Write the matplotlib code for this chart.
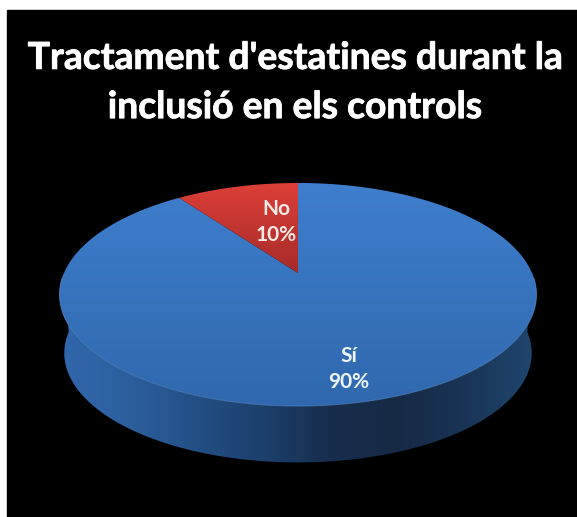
import numpy as np
import matplotlib
matplotlib.use('Agg')
import matplotlib.pyplot as plt
import matplotlib.patheffects as pe
from matplotlib.colors import LinearSegmentedColormap
from matplotlib.patches import Polygon

title = "Tractament d'estatines durant la\ninclusió en els controls"
categories = ['Sí', 'No']
shares = [90, 10]

# pie geometry in pixels
cx, cy = 298, 273
rx, ry = 234, 107.4
tilt = 0.193
depth = 59
shrink = 0.98


def disc(theta, scale=1.0, dy=0.0):
    # theta is clockwise from 12 o'clock, far side of the disc is squeezed by the tilt
    w = 1 + tilt * np.cos(theta)
    x = cx + scale * rx * np.sin(theta) / w
    y = cy + dy - scale * ry * np.cos(theta) / w
    return np.column_stack([x, y])


def gradient(ax, patch, colors, vertical=True, extent=(0, 577, 517, 0)):
    cmap = LinearSegmentedColormap.from_list('g', colors)
    g = np.linspace(0, 1, 256)
    g = g.reshape(-1, 1) if vertical else g.reshape(1, -1)
    ax.add_patch(patch)
    im = ax.imshow(g, cmap=cmap, extent=extent, aspect='auto', zorder=patch.get_zorder(), interpolation='bilinear')
    im.set_clip_path(patch)


fig = plt.figure(figsize=(5.77, 5.17), dpi=100, facecolor='white')
ax = fig.add_axes([0, 0, 1, 1])
ax.set_xlim(0, 577)
ax.set_ylim(517, 0)
ax.axis('off')
ax.add_patch(Polygon([(7, 10), (577, 10), (577, 517), (7, 517)], color='black', zorder=0))

# side wall: outline of top rim plus the lower rim, front half only
t = np.linspace(np.pi / 2, 3 * np.pi / 2, 200)
wall = np.vstack([disc(t), disc(t[::-1], shrink, depth)])
side = Polygon(wall, closed=True, facecolor='none', edgecolor='none', zorder=1)
gradient(ax, side, ['#3168ac', '#2d5f9e', '#234f85', '#1c3f6b', '#172d4c', '#162a45', '#1a3558', '#20466f'],
         vertical=False, extent=(59, 537, 517, 0))

# top face wedges, start at 12 o'clock and go clockwise
fracs = np.array(shares) / sum(shares)
start = 0.0
face_colors = [['#3f7ecd', '#2f68ae'], ['#dc3f38', '#a52a28']]
face_spans = [(183, 410), (183, 275)]
for frac, cols, span in zip(fracs, face_colors, face_spans):
    t = np.linspace(start, start + frac * 2 * np.pi, 300)
    pts = np.vstack([[cx, cy], disc(t)])
    wedge = Polygon(pts, closed=True, facecolor='none', edgecolor='none', zorder=2)
    gradient(ax, wedge, cols, extent=(0, 577, span[1], span[0]))
    start += frac * 2 * np.pi

# thin lighter rim along the near edge of the top face
t = np.linspace(np.pi / 2 + 0.05, 3 * np.pi / 2 - 0.05, 200)
rim = disc(t)
ax.plot(rim[:, 0], rim[:, 1], color='#5b8fcc', lw=0.7, alpha=0.6, zorder=3)

ax.set_xlim(0, 577)
ax.set_ylim(517, 0)

heavy = [pe.withStroke(linewidth=0.6, foreground='white')]
ax.text(295, 83, title, color='white', ha='center', va='center', fontsize=26.8, family='Lato',
        fontweight='bold', linespacing=1.6, zorder=5, path_effects=heavy)
ax.text(349, 369, f'{categories[0]}\n{shares[0]}%', color='#eef4fa', ha='center', va='center', fontsize=15,
        family='Lato', fontweight='bold', linespacing=1.4, zorder=5)
ax.text(276, 222, f'{categories[1]}\n{shares[1]}%', color='#f6e9e6', ha='center', va='center', fontsize=15,
        family='Lato', fontweight='bold', linespacing=1.4, zorder=5)

fig.savefig('out.png', dpi=100, facecolor='white')
